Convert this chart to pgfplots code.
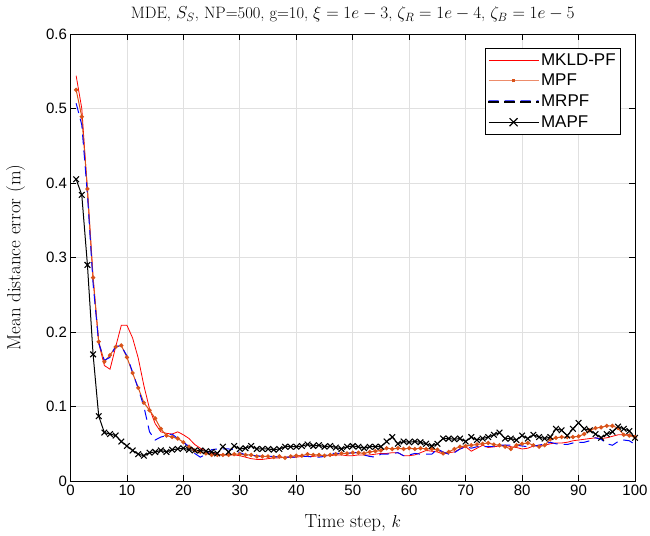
\documentclass[border=0pt]{standalone}
\usepackage{fontspec}
\setsansfont{Liberation Sans}
\usepackage{pgfplots}
\usepackage{pgfplotstable}
\pgfplotsset{compat=1.18}
\definecolor{mpforange}{rgb}{0.85,0.325,0.098}
\definecolor{mpflight}{rgb}{0.93,0.55,0.42}
\definecolor{mkldred}{rgb}{1,0,0}
\definecolor{mrpfblue}{rgb}{0,0,1}
\definecolor{mrpflight}{rgb}{0.3,0.3,1}
\definecolor{gridgray}{rgb}{0.88,0.88,0.88}
\newcommand\mkldleg{\node[inner sep=0pt, anchor=base west] at (0pt,0pt)
  {\textcolor{mkldred}{\rule[-0.45pt]{50pt}{0.9pt}}};}
\newcommand\mpfleg{\node[inner sep=0pt, anchor=base west] at (0pt,0pt)
  {\textcolor{mpflight}{\rule[-0.6pt]{50pt}{1.2pt}}\hspace{-26.6pt}\textcolor{mpforange}{\rule[-1.6pt]{3.2pt}{3.2pt}}\hspace{23.4pt}};}
\newcommand\mrpfleg{%
  \shade[left color=mrpflight, right color=mrpflight] (0pt,-0.6pt) rectangle (10pt,0.6pt);
  \shade[left color=mrpflight, right color=mrpflight] (16pt,-0.6pt) rectangle (26pt,0.6pt);
  \shade[left color=mrpflight, right color=mrpflight] (32pt,-0.6pt) rectangle (42pt,0.6pt);
  \shade[left color=mrpflight, right color=mrpflight] (48pt,-0.6pt) rectangle (50pt,0.6pt);}
\newcommand\mapfleg{\draw[black, line width=1pt] (0pt,0pt) -- (50pt,0pt);
  \draw[black, line width=1.1pt] (21pt,-4pt) -- (29pt,4pt) (21pt,4pt) -- (29pt,-4pt);}
\pgfplotstableread{
k mkld mpf mrpf mapf
1 0.544 0.525 0.507 0.405
2 0.500 0.489 0.478 0.384
3 0.390 0.392 0.385 0.290
4 0.272 0.273 0.265 0.170
5 0.185 0.187 0.185 0.087
6 0.155 0.160 0.162 0.065
7 0.150 0.169 0.166 0.063
8 0.180 0.180 0.181 0.061
9 0.209 0.182 0.181 0.053
10 0.209 0.166 0.168 0.047
11 0.192 0.145 0.146 0.041
12 0.165 0.125 0.124 0.036
13 0.128 0.105 0.100 0.034
14 0.097 0.095 0.066 0.038
15 0.077 0.084 0.055 0.039
16 0.066 0.070 0.059 0.041
17 0.064 0.061 0.061 0.039
18 0.063 0.059 0.063 0.042
19 0.066 0.057 0.057 0.043
20 0.062 0.052 0.052 0.044
21 0.057 0.046 0.046 0.042
22 0.049 0.041 0.037 0.041
23 0.044 0.039 0.032 0.041
24 0.040 0.037 0.036 0.040
25 0.038 0.035 0.042 0.039
26 0.036 0.035 0.043 0.037
27 0.035 0.035 0.043 0.046
28 0.035 0.035 0.043 0.039
29 0.035 0.036 0.042 0.047
30 0.034 0.036 0.038 0.043
31 0.032 0.035 0.035 0.044
32 0.030 0.035 0.034 0.047
33 0.029 0.033 0.034 0.043
34 0.029 0.033 0.033 0.043
35 0.030 0.033 0.033 0.043
36 0.031 0.032 0.033 0.042
37 0.031 0.033 0.032 0.043
38 0.032 0.031 0.032 0.046
39 0.032 0.033 0.032 0.046
40 0.032 0.034 0.032 0.046
41 0.033 0.034 0.033 0.047
42 0.033 0.036 0.033 0.049
43 0.033 0.035 0.032 0.047
44 0.034 0.035 0.032 0.048
45 0.034 0.034 0.033 0.046
46 0.034 0.035 0.037 0.047
47 0.035 0.036 0.037 0.045
48 0.035 0.037 0.037 0.043
49 0.034 0.037 0.037 0.046
50 0.034 0.038 0.038 0.047
51 0.035 0.038 0.038 0.046
52 0.035 0.037 0.035 0.044
53 0.035 0.039 0.033 0.046
54 0.036 0.040 0.032 0.046
55 0.037 0.041 0.036 0.046
56 0.037 0.044 0.036 0.053
57 0.038 0.043 0.037 0.059
58 0.038 0.044 0.038 0.050
59 0.034 0.043 0.034 0.053
60 0.034 0.044 0.035 0.052
61 0.035 0.043 0.037 0.053
62 0.038 0.044 0.036 0.052
63 0.041 0.043 0.036 0.050
64 0.040 0.043 0.036 0.047
65 0.039 0.042 0.043 0.050
66 0.036 0.037 0.039 0.057
67 0.038 0.039 0.036 0.057
68 0.039 0.043 0.038 0.056
69 0.043 0.046 0.043 0.057
70 0.046 0.047 0.046 0.053
71 0.040 0.048 0.044 0.059
72 0.044 0.049 0.046 0.055
73 0.048 0.050 0.046 0.057
74 0.045 0.051 0.046 0.059
75 0.046 0.049 0.046 0.062
76 0.047 0.048 0.048 0.065
77 0.048 0.046 0.048 0.057
78 0.046 0.043 0.048 0.057
79 0.045 0.048 0.048 0.055
80 0.043 0.050 0.047 0.061
81 0.044 0.051 0.046 0.057
82 0.047 0.048 0.047 0.062
83 0.048 0.046 0.048 0.059
84 0.048 0.048 0.050 0.057
85 0.050 0.056 0.052 0.059
86 0.051 0.058 0.050 0.070
87 0.051 0.059 0.049 0.068
88 0.052 0.059 0.049 0.061
89 0.054 0.059 0.051 0.070
90 0.055 0.060 0.052 0.078
91 0.056 0.063 0.052 0.070
92 0.057 0.068 0.054 0.068
93 0.058 0.071 0.058 0.063
94 0.057 0.072 0.056 0.058
95 0.058 0.074 0.050 0.063
96 0.060 0.074 0.048 0.066
97 0.062 0.071 0.053 0.073
98 0.062 0.062 0.055 0.070
99 0.062 0.061 0.054 0.067
100 0.060 0.059 0.049 0.058
}\datatable

\begin{document}
\begin{tikzpicture}
\begin{axis}[
  name=ax,
  scale only axis,
  width=564.5pt, height=447pt,
  xmin=0, xmax=100, ymin=0, ymax=0.6,
  xtick={0,10,20,30,40,50,60,70,80,90,100},
  xticklabels={0,10,20,30,40,50,60,70,80,90,100},
  ytick={0,0.1,0.2,0.3,0.4,0.5,0.6},
  yticklabels={0,0.1,0.2,0.3,0.4,0.5,0.6},
  tick label style={font=\sffamily\fontsize{15}{18}\selectfont},
  tick align=inside,
  major tick length=6pt,
  tick style={black, line width=0.8pt},
  axis line style={black, line width=0.8pt},
  grid=major,
  major grid style={draw=gridgray, line width=0.8pt},
  title={MDE, $S_S$, NP=500, g=10, $\xi=1e-3$, $\zeta_R=1e-4$, $\zeta_B=1e-5$},
  title style={font=\fontsize{16.5}{19}\selectfont, at={(axis description cs:0.5,1.03)}, anchor=center, inner sep=1pt},
  xlabel={Time step, $k$},
  ylabel={Mean distance error (m)},
  label style={font=\fontsize{19}{22}\selectfont},
  xlabel style={at={(axis description cs:0.5,-0.094)}, anchor=center},
  ylabel style={at={(axis description cs:-0.097,0.5)}, anchor=center},
  legend style={at={(0.975,0.968)}, anchor=north east,
    font=\sffamily\fontsize{17}{20}\selectfont, fill=white,
    inner xsep=3pt, inner ysep=3pt, row sep=3.5pt},
  legend cell align=left,
]
\addlegendimage{legend image code/.code={\mkldleg}}
\addlegendentry{MKLD-PF}
\addlegendimage{legend image code/.code={\mpfleg}}
\addlegendentry{MPF}
\addlegendimage{legend image code/.code={\mrpfleg}}
\addlegendentry{MRPF}
\addlegendimage{legend image code/.code={\mapfleg}}
\addlegendentry{MAPF}
\addplot[color=mkldred, line width=0.8pt, mark=none, forget plot] table[x=k, y=mkld] {\datatable};
\addplot[color=mpforange, line width=1pt, mark=*, mark size=1.6pt, mark options={solid, fill=mpforange, draw=mpforange}, forget plot] table[x=k, y=mpf] {\datatable};
\addplot[color=mrpfblue, line width=1pt, dash pattern=on 10pt off 6pt, mark=none, forget plot] table[x=k, y=mrpf] {\datatable};
\addplot[color=black, line width=1pt, mark=x, mark size=4pt, mark options={solid, line width=1.1pt}, forget plot] table[x=k, y=mapf] {\datatable};
\end{axis}
\pgfresetboundingbox
\path[use as bounding box] ([xshift=-70.5pt,yshift=-54pt]ax.south west) rectangle ([xshift=15pt,yshift=34pt]ax.north east);
\end{tikzpicture}
\end{document}
